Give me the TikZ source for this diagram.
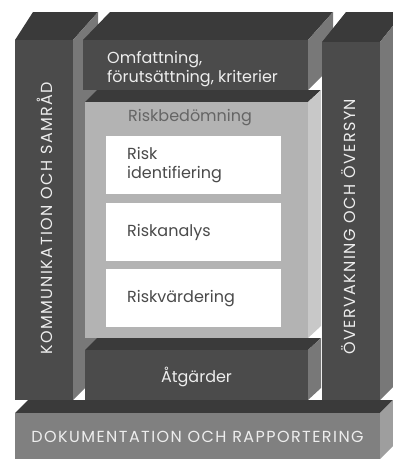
\documentclass[tikz,border=0pt]{standalone}
\usepackage{fontspec}
\setmainfont{Poppins}
\usepackage{tikz}
\definecolor{frontgray}{HTML}{4B4B4B}
\definecolor{topgray}{HTML}{3A3A3A}
\definecolor{sidegray}{HTML}{787878}
\definecolor{boxgray}{HTML}{B3B3B3}
\definecolor{boxside}{HTML}{C8C8C8}
\definecolor{basegray}{HTML}{808080}
\definecolor{baseside}{HTML}{9E9E9E}
\definecolor{lighttext}{HTML}{EDEDED}
\definecolor{darktext}{HTML}{4A4A4A}

\begin{document}
\begin{tikzpicture}[x=1pt,y=-1pt,
    txt/.style={font=\fontsize{16}{19}\selectfont,inner sep=0pt},
    capstxt/.style={font=\fontsize{16}{19}\selectfont\addfontfeatures{LetterSpace=9},inner sep=0pt},
    ontop/.style={txt,text=lighttext},
    onwhite/.style={txt,text=darktext,anchor=west,align=left},
    pillartxt/.style={capstxt,text=lighttext,rotate=90,anchor=west},
    riskbox/.style={fill=white}]

    \useasboundingbox (0,0) rectangle (393,459);
    \clip (0,0) rectangle (393,459);

    % left pillar
    \fill[topgray] (15,40) -- (33,12) -- (98,12) -- (73,40) -- cycle;
    \fill[sidegray] (73,40) -- (98,12) -- (98,375) -- (73,400) -- cycle;
    \fill[frontgray] (15,40) rectangle (73,400);

    % scope box
    \fill[topgray] (83,40) -- (110,12) -- (333,12) -- (308,40) -- cycle;
    \fill[sidegray] (308,40) -- (333,12) -- (333,65) -- (308,90) -- cycle;
    \fill[frontgray] (83,40) rectangle (308,90);

    % risk assessment box
    \fill[topgray] (85,102) -- (97,90) -- (321,90) -- (308,102) -- cycle;
    \fill[boxside] (308,102) -- (321,90) -- (321,326) -- (308,338) -- cycle;
    \fill[boxgray] (85,102) rectangle (308,338);
    \fill[riskbox] (106,136) rectangle (281,194);
    \fill[riskbox] (106,203) rectangle (281,261);
    \fill[riskbox] (106,269) rectangle (281,327);

    % treatment box
    \fill[topgray] (85,350) -- (97,338) -- (321,338) -- (308,350) -- cycle;
    \fill[sidegray] (308,350) -- (321,338) -- (321,388) -- (308,400) -- cycle;
    \fill[frontgray] (85,350) rectangle (308,400);

    % right pillar
    \fill[topgray] (322,42) -- (346,12) -- (404,12) -- (380,42) -- cycle;
    \fill[sidegray] (380,42) -- (404,12) -- (404,376) -- (380,400) -- cycle;
    \fill[frontgray] (322,42) rectangle (380,400);

    % base
    \fill[topgray] (15,413) -- (28,400) -- (393,400) -- (380,413) -- cycle;
    \fill[baseside] (380,413) -- (393,400) -- (393,446) -- (380,459) -- cycle;
    \fill[basegray] (15,413) rectangle (380,459);

    \node[ontop,anchor=west,align=left] (scope) at (107,69.5) {Omfattning,\\förutsättning, kriterier};
    \node[onwhite,text=darktext!85] (assess) at (128,118) {Riskbedömning};
    \node[onwhite] (ident) at (127,165) {Risk\\identifiering};
    \node[onwhite] (analys) at (127,232) {Riskanalys};
    \node[onwhite] (eval) at (127,299) {Riskvärdering};
    \node[ontop] (treat) at (196.5,377) {Åtgärder};
    \node[capstxt,text=lighttext] (docs) at (197.5,437) {DOKUMENTATION OCH RAPPORTERING};
    \node[pillartxt] (comm) at (44.5,355) {KOMMUNIKATION OCH SAMRÅD};
    \node[pillartxt] (monit) at (349,355) {ÖVERVAKNING OCH ÖVERSYN};
\end{tikzpicture}
\end{document}
